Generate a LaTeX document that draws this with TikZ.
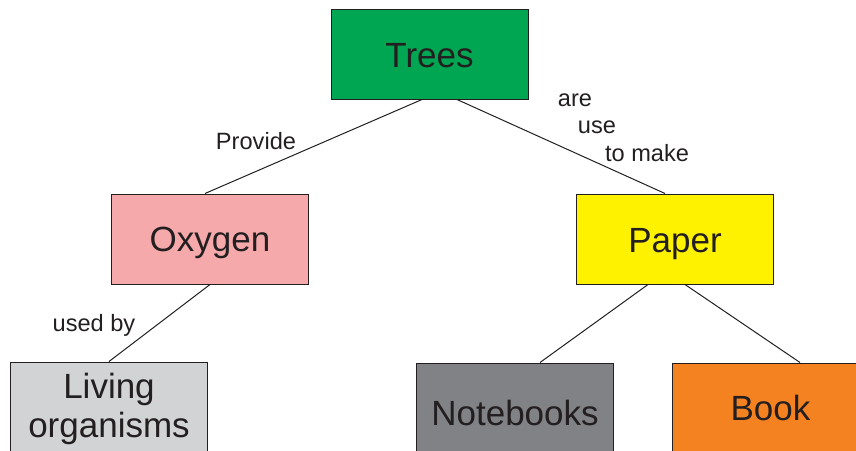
\documentclass[tikz,border=0pt]{standalone}
\usepackage{fontspec}
\setmainfont{Liberation Sans}
\definecolor{treegreen}{HTML}{00A651}
\definecolor{oxypink}{HTML}{F6A9AA}
\definecolor{paperyellow}{HTML}{FFF200}
\definecolor{livegray}{HTML}{D1D3D4}
\definecolor{notegray}{HTML}{808285}
\definecolor{bookorange}{HTML}{F58220}
\definecolor{inkgray}{HTML}{231F20}
\begin{document}
\begin{tikzpicture}[x=0.5pt, y=-0.5pt,
    box/.style={draw=inkgray, line width=0.5pt, minimum width=98.5pt, minimum height=45pt,
      inner sep=0pt, text=inkgray, align=center, text height=12.5pt, text depth=0pt,
      font=\fontsize{17.5}{19.5}\selectfont},
    lbl/.style={inner sep=0pt, text=inkgray, font=\fontsize{11.8}{14}\selectfont},
    link/.style={draw=inkgray, line width=0.5pt}]
        \useasboundingbox (0,0) rectangle (856,450);
        \clip (0,0) rectangle (856,450);

        \node[box, fill=treegreen, text height=13pt] (1) at (429.5,54) {Trees};
        \node[box, fill=oxypink] (2) at (210,239) {Oxygen};
        \node[box, fill=paperyellow, text height=13.5pt] (3) at (675,239) {Paper};
        \node[box, fill=livegray, text height=33.7pt, text depth=3.7pt] (4) at (109,407) {Living\\organisms};
        \node[box, fill=notegray, text height=17.5pt] (5) at (515,408) {Notebooks};
        \node[box, fill=bookorange] (6) at (770.5,408) {Book};

        \node[lbl] (p) at (256,141) {Provide};
        \node[lbl] (a) at (575,100) {are};
        \node[lbl] (u) at (597,127) {use};
        \node[lbl] (m) at (647,153) {to make};
        \node[lbl] (b) at (94,325) {used by};

        \draw[link] ([xshift=-3.75pt]1.south) -- ([xshift=-2.5pt]2.north);
        \draw[link] ([xshift=13.75pt]1.south) -- ([xshift=-5pt]3.north);
        \draw[link] (2.south) -- (4.north);
        \draw[link] ([xshift=-13.5pt]3.south) -- ([xshift=12.5pt]5.north);
        \draw[link] ([xshift=5pt]3.south) -- ([xshift=14.75pt]6.north);
      \end{tikzpicture}
\end{document}
